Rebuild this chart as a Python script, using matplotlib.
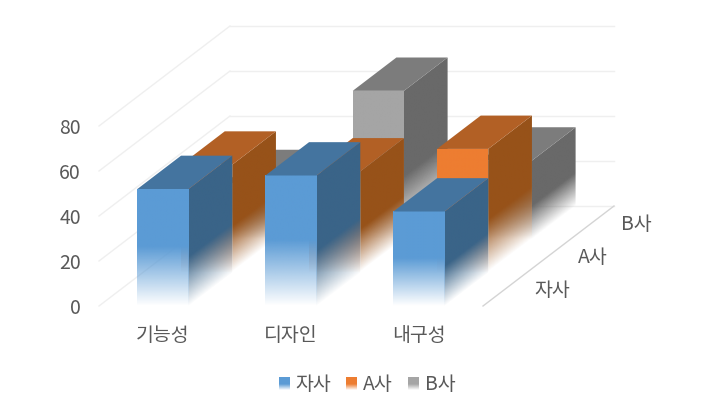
import numpy as np
import matplotlib
matplotlib.use("Agg")
import matplotlib.pyplot as plt
from matplotlib.colors import to_rgb
from matplotlib.legend_handler import HandlerBase
from matplotlib.patches import Patch, Polygon, Rectangle
from matplotlib.transforms import Affine2D

plt.rcParams['font.family'] = ['Noto Sans CJK KR', 'DejaVu Sans']

categories = ['기능성', '디자인', '내구성']
series_names = ['자사', 'A사', 'B사']
own_values = [52, 58, 42]
a_values = [48, 45, 55]
b_values = [25, 66, 35]
value_ticks = [0, 20, 40, 60, 80]

front_colors = ['#5B9BD5', '#ED7D31', '#A5A5A5']
top_colors = ['#44749F', '#B26025', '#7C7C7C']
side_colors = ['#3A6488', '#975219', '#696969']
GRID = '#EFEFEF'
FLOOR = '#D4D4D4'
TEXT = '#595959'

BAR_W = 0.4
DX = 131 / 128 / 3     # depth of one series, in category units
DY = (100 / 2.25) / 3  # depth of one series, in value units
N_S = 3

W, H = 726, 418
fig = plt.figure(figsize=(W / 100, H / 100), dpi=100)
ax = fig.add_axes([99 / W, (H - 306) / H, 384 / W, 180 / H])
ax.set_xlim(0, 3)
ax.set_ylim(0, 80)
for sp in ax.spines.values():
    sp.set_visible(False)
ax.patch.set_visible(False)


def fade_image(color, fade_to):
    v = np.linspace(0, 1, 128)
    alpha = np.clip(v / fade_to, 0, 1)
    rgba = np.ones((128, 2, 4))
    rgba[..., :3] = to_rgb(color)
    rgba[..., 3] = alpha[:, None]
    return rgba


def face(origin, ex, ey, color, z, fade_to):
    """Gradient face spanned by edge vectors ex (horizontal) and ey (vertical)."""
    tr = Affine2D.from_values(ex[0], ex[1], ey[0], ey[1], origin[0], origin[1]) + ax.transData
    im = ax.imshow(fade_image(color, fade_to), extent=(-0.02, 1.02, 0, 1.01), origin='lower',
                   aspect='auto', interpolation='bilinear', transform=tr, zorder=z)
    clip = Polygon([origin,
                    (origin[0] + ex[0], origin[1] + ex[1]),
                    (origin[0] + ex[0] + ey[0], origin[1] + ex[1] + ey[1]),
                    (origin[0] + ey[0], origin[1] + ey[1])],
                   transform=ax.transData)
    im.set_clip_path(clip)
    im.set_clip_box(fig.bbox)


# walls and floor
depth_x, depth_y = DX * N_S, DY * N_S
for v in value_ticks:
    ax.plot([0, depth_x], [v, v + depth_y], color=GRID, lw=1, clip_on=False, zorder=1)
    ax.plot([depth_x, 3 + depth_x], [v + depth_y, v + depth_y], color=GRID, lw=1,
            clip_on=False, zorder=1)
ax.plot([3, 3 + depth_x], [0, depth_y], color=FLOOR, lw=1, clip_on=False, zorder=1)

# bars, from back to front
all_values = [own_values, a_values, b_values]
for s in range(N_S - 1, -1, -1):
    z = 10 + (N_S - s) * 10
    for i, val in enumerate(all_values[s]):
        x0 = i + (1 - BAR_W) / 2 + s * DX
        x1 = x0 + BAR_W
        y0 = s * DY
        y1 = y0 + val
        face((x1, y0), (DX, DY), (0, val), side_colors[s], z, 0.42)
        face((x0, y0), (BAR_W, 0), (0, val), front_colors[s], z + 1, 0.5)
        ax.add_patch(Polygon([(x0, y1), (x1, y1), (x1 + DX, y1 + DY), (x0 + DX, y1 + DY)],
                             facecolor=top_colors[s], edgecolor='none', clip_on=False, zorder=z + 2))
ax.set_xlim(0, 3)
ax.set_ylim(0, 80)

# real axes ticks
ax.set_xticks([0.5, 1.5, 2.5], categories)
ax.set_yticks(value_ticks)
ax.tick_params(axis='x', length=0, pad=14, labelsize=14, labelcolor=TEXT)
ax.tick_params(axis='y', length=0, pad=13, labelsize=14, labelcolor=TEXT)

# depth axis labels
for s, name in enumerate(series_names):
    ax.annotate(name, xy=(3 + (s + 0.5) * DX, (s + 0.5) * DY), xytext=(21, -1),
                textcoords='offset points', ha='left', va='center',
                fontsize=14, color=TEXT, annotation_clip=False)


class FadeHandler(HandlerBase):
    def create_artists(self, legend, orig, xd, yd, width, height, fontsize, trans):
        n = 12
        out = []
        color = orig.get_facecolor()[:3]
        for k in range(n):
            f = (k + 0.5) / n
            out.append(Rectangle((-xd, -yd + height * k / n), width, height / n + 0.1,
                                 facecolor=color, edgecolor='none',
                                 alpha=min(1, f / 0.5), antialiased=False, transform=trans))
        return out


handles = [Patch(facecolor=c, label=n) for c, n in zip(front_colors, series_names)]
fig.legend(handles=handles, ncol=3, frameon=False, fontsize=14, labelcolor=TEXT,
           handler_map={Patch: FadeHandler()}, handlelength=0.58, handleheight=0.58,
           handletextpad=0.3, columnspacing=0.75, loc='center',
           bbox_to_anchor=(367 / W, (H - 385) / H))

fig.savefig('out.png', dpi=100)
